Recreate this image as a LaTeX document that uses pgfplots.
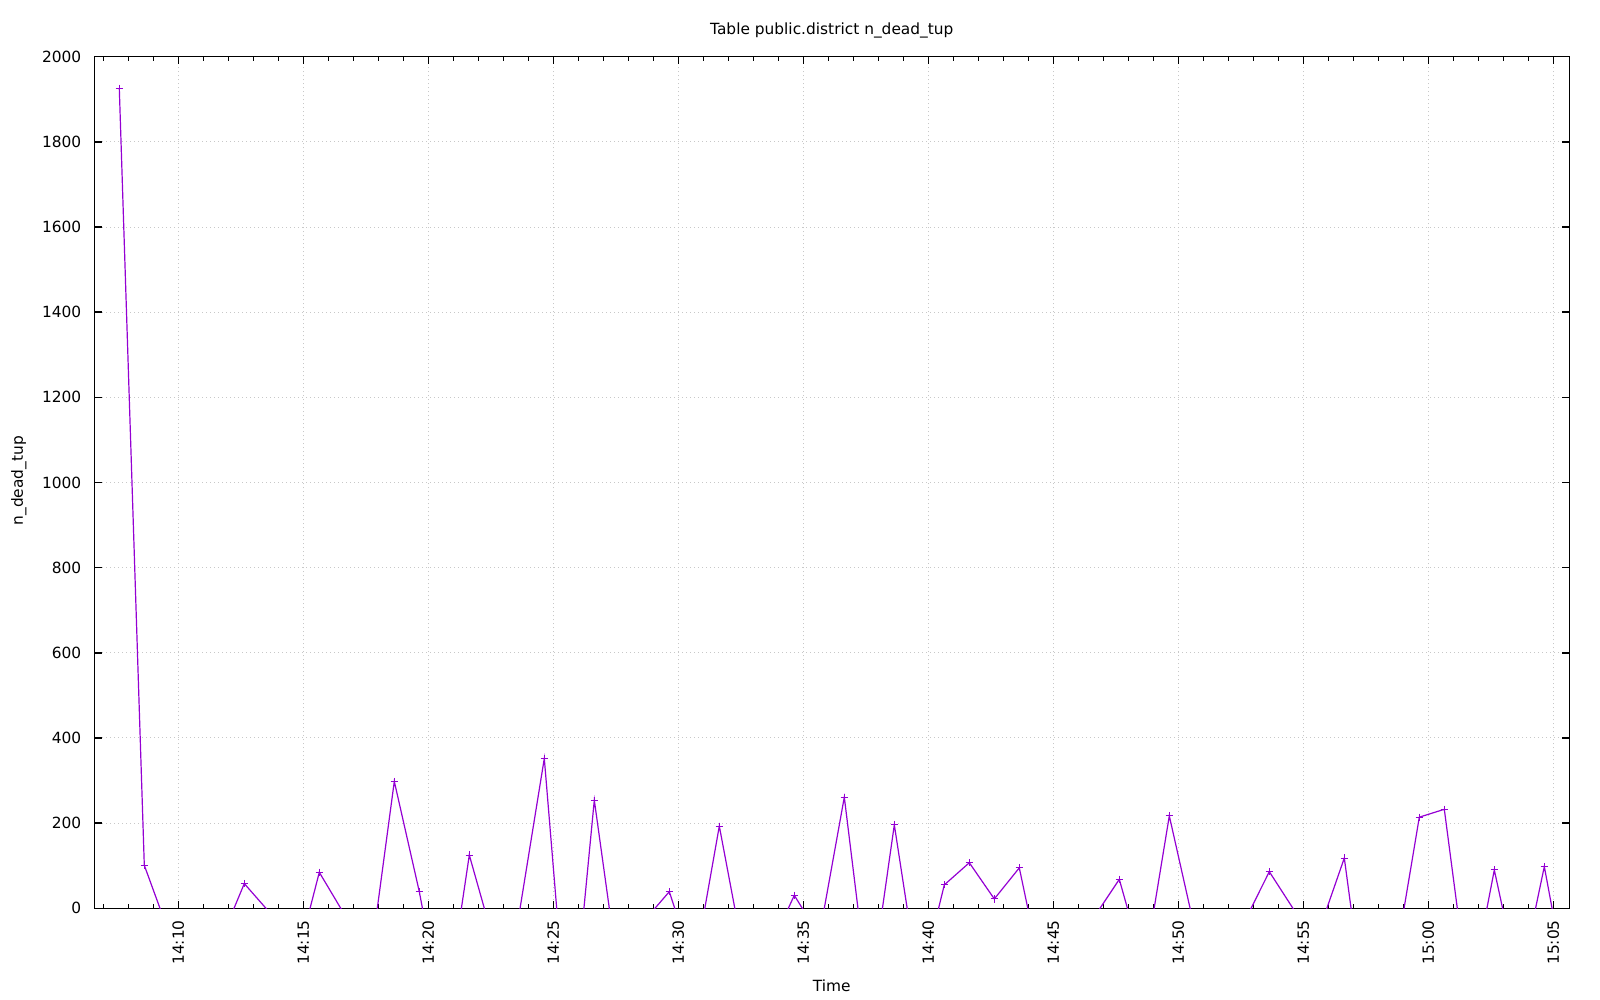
\documentclass[border=0pt]{standalone}
\usepackage{fontspec}
\setmainfont{DejaVu Sans}
\usepackage{pgfplots}
\pgfplotsset{compat=1.18}
\usepackage{pgfplotstable}
\definecolor{dviolet}{HTML}{9400D3}
\definecolor{gridgray}{HTML}{C8C8C8}
\pgfplotstableread{
m v
7.64 1926
8.64 101
9.64 -60
10.64 -70
11.64 -83
12.64 58
13.64 -9
14.64 -144
15.64 84.5
16.64 -14
17.64 -140
18.64 298
19.64 39
20.64 -270
21.64 125
22.64 -83
23.64 -11
24.64 352
25.64 -358
26.64 254
27.64 -169
28.64 -29
29.64 39
30.64 -140
31.64 193
32.64 -118
33.64 -97
34.64 30.5
35.64 -65
36.64 261
37.64 -217
38.64 196
39.64 -185
40.64 55
41.64 107
42.64 22
43.64 95
44.64 -184
45.64 -100
46.64 -20
47.64 68
48.64 -141
49.64 217
50.64 -44
51.64 -50
52.64 -32
53.64 86
54.64 -5
55.64 -51
56.64 118
57.64 -319
58.64 -137
59.64 214
60.64 232.5
61.64 -215
62.64 90
63.64 -182
64.64 98
65.64 -218
}\datatable
\begin{document}
\begin{tikzpicture}
\useasboundingbox (0,0) rectangle (800pt,500pt);
\begin{axis}[
  at={(47.15pt,45.85pt)}, anchor=south west,
  scale only axis, width=737.5pt, height=425.8pt,
  xmin=6.64, xmax=65.64, ymin=0, ymax=2000,
  xtick={10,15,...,65},
  xticklabels={14:10,14:15,14:20,14:25,14:30,14:35,14:40,14:45,14:50,14:55,15:00,15:05},
  minor xtick={7,...,65},
  ytick={0,200,...,2000},
  scaled y ticks=false,
  /pgf/number format/1000 sep={},
  /pgf/number format/assume math mode=true,
  tick align=inside,
  major tick length=3.6pt, minor tick length=2.2pt,
  xmajorgrids, ymajorgrids,
  major grid style={gridgray, line width=0.5pt, dash pattern=on 0.5pt off 1.5pt},
  axis line style={line width=0.75pt},
  every tick/.style={black, line width=0.75pt},
  tick label style={font=\fontsize{7.7}{9}\selectfont},
  yticklabel style={xshift=-3pt},
  xticklabel style={rotate=90, anchor=east, inner xsep=5.8pt},
  title={Table public.district n\_dead\_tup},
  title style={at={(axis description cs:0.5,1.0165)}, anchor=center, font=\fontsize{7.7}{9}\selectfont},
  xlabel={Time},
  xlabel style={at={(axis description cs:0.5,-0.0912)}, anchor=center, font=\fontsize{7.7}{9}\selectfont},
  ylabel={n\_dead\_tup},
  ylabel style={at={(axis description cs:-0.0511,0.502)}, anchor=center, rotate=0, font=\fontsize{7.7}{9}\selectfont},
]
\addplot[dviolet, line width=0.6pt, mark=none] table[x=m,y=v]{\datatable};
\addplot[dviolet, only marks, mark=+, mark size=1.8pt, mark options={line width=0.5pt}, restrict y to domain=0:2100] table[x=m,y=v]{\datatable};
\end{axis}
\end{tikzpicture}
\end{document}
